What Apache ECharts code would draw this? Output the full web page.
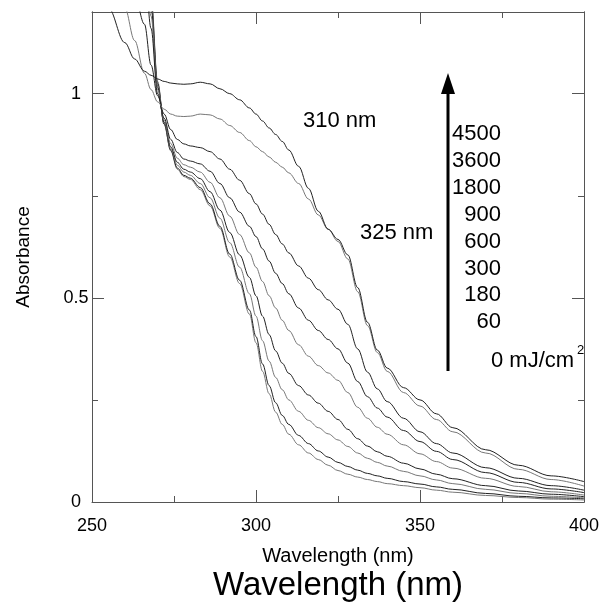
<!DOCTYPE html>
<html>
<head>
<meta charset="utf-8">
<script src="https://cdn.jsdelivr.net/npm/echarts@6/dist/echarts.min.js"></script>
<style>
html,body{margin:0;padding:0;background:#fff;}
#c{width:604px;height:605px;}
</style>
</head>
<body>
<div id="c"></div>
<script>
// ---- data ----
const wavelength = [250,255,260,263,266,268,270,272,274,276,278,280,283,286,289,292,295,298,300,302,304,306,308,310,313,316,319,322,325,328,331,334,337,340,345,350,355,360,370,380,390,400];

const abs0    = [1.80,1.70,1.60,1.50,1.38,1.24,1.03,0.925,0.86,0.815,0.797,0.79,0.765,0.725,0.67,0.60,0.535,0.46,0.39,0.32,0.265,0.22,0.19,0.166,0.14,0.12,0.104,0.09,0.077,0.068,0.061,0.055,0.05,0.045,0.04,0.035,0.029,0.024,0.016,0.011,0.007,0.005];
const abs60   = [1.80,1.70,1.60,1.50,1.37,1.23,1.025,0.925,0.862,0.818,0.80,0.793,0.77,0.73,0.675,0.607,0.543,0.47,0.405,0.338,0.285,0.243,0.212,0.19,0.163,0.143,0.125,0.11,0.097,0.087,0.078,0.07,0.064,0.058,0.05,0.044,0.037,0.031,0.021,0.014,0.01,0.008];
const abs180  = [1.78,1.68,1.58,1.48,1.36,1.22,1.02,0.928,0.866,0.825,0.808,0.80,0.78,0.745,0.695,0.635,0.575,0.51,0.455,0.395,0.345,0.305,0.275,0.25,0.222,0.2,0.182,0.167,0.152,0.136,0.12,0.107,0.097,0.088,0.075,0.064,0.054,0.045,0.031,0.021,0.014,0.01];
const abs300  = [1.77,1.67,1.57,1.47,1.35,1.21,1.015,0.93,0.87,0.832,0.815,0.808,0.792,0.76,0.715,0.66,0.605,0.55,0.505,0.455,0.41,0.37,0.34,0.315,0.285,0.262,0.242,0.222,0.202,0.178,0.155,0.137,0.123,0.112,0.095,0.081,0.068,0.057,0.04,0.027,0.019,0.013];
const abs600  = [1.75,1.65,1.55,1.45,1.33,1.19,1.01,0.935,0.878,0.842,0.826,0.82,0.808,0.783,0.745,0.70,0.655,0.61,0.575,0.54,0.505,0.475,0.445,0.42,0.385,0.357,0.334,0.316,0.298,0.268,0.232,0.205,0.183,0.166,0.14,0.118,0.099,0.083,0.058,0.038,0.025,0.017];
const abs900  = [1.72,1.62,1.52,1.43,1.31,1.16,1.0,0.94,0.888,0.856,0.84,0.835,0.828,0.81,0.78,0.745,0.71,0.675,0.65,0.62,0.59,0.56,0.535,0.51,0.475,0.445,0.42,0.398,0.375,0.34,0.295,0.258,0.23,0.208,0.175,0.148,0.124,0.104,0.072,0.048,0.032,0.023];
const abs1800 = [1.50,1.40,1.30,1.24,1.17,1.07,0.995,0.95,0.912,0.888,0.877,0.872,0.868,0.858,0.84,0.815,0.788,0.755,0.73,0.705,0.68,0.655,0.632,0.61,0.578,0.548,0.52,0.495,0.472,0.435,0.375,0.318,0.277,0.246,0.205,0.172,0.143,0.12,0.084,0.058,0.04,0.029];
const abs3600 = [1.38,1.30,1.21,1.13,1.05,1.01,0.98,0.962,0.95,0.945,0.944,0.945,0.95,0.948,0.938,0.922,0.905,0.885,0.87,0.858,0.845,0.832,0.82,0.806,0.78,0.742,0.703,0.668,0.638,0.595,0.515,0.432,0.366,0.32,0.268,0.235,0.202,0.172,0.12,0.08,0.055,0.039];
const abs4500 = [1.28,1.21,1.125,1.085,1.055,1.045,1.036,1.03,1.026,1.024,1.023,1.024,1.028,1.024,1.012,1.0,0.985,0.965,0.95,0.933,0.916,0.90,0.883,0.862,0.822,0.768,0.712,0.668,0.643,0.605,0.525,0.44,0.372,0.328,0.28,0.25,0.216,0.182,0.128,0.09,0.064,0.05];

const doses = ['0','60','180','300','600','900','1800','3600','4500'];
const doseLabels = ['4500','3600','1800','900','600','300','180','60'];
const xTicks = [250,300,350,400];
const yTicks = [0,0.5,1];

// ---- chart ----
const curves = [abs0,abs60,abs180,abs300,abs600,abs900,abs1800,abs3600,abs4500];
const lineColors = ['#777','#222','#777','#222','#777','#222','#222','#777','#222'];
const FONT = '"Liberation Sans", Arial, Helvetica, sans-serif';
const AX = '#555';

const chart = echarts.init(document.getElementById('c'), null, {renderer:'canvas'});

function xAx(pos, labels){
  return {
    type:'value', min:250, max:400, interval:50, position:pos,
    axisLine:{show:true, onZero:false, lineStyle:{color:AX, width:1}},
    axisTick:{show:true, inside:true, length:12, lineStyle:{color:AX, width:1}},
    minorTick:{show:true, splitNumber:2, length:6, lineStyle:{color:AX, width:1}},
    splitLine:{show:false}, minorSplitLine:{show:false},
    axisLabel:{show:labels, margin:15, color:'#000', fontSize:18, fontFamily:FONT,
      formatter:v => xTicks.includes(v) ? String(v) : ''},
    name: labels ? 'Wavelength (nm)' : '',
    nameLocation:'middle', nameGap:44,
    nameTextStyle:{color:'#000', fontSize:20, fontFamily:FONT}
  };
}
function yAx(pos, interval, len, labels){
  return {
    type:'value', min:0, max:1.2, interval:interval, position:pos,
    axisLine:{show:true, onZero:false, lineStyle:{color:AX, width:1}},
    axisTick:{show:true, inside:true, length:len, lineStyle:{color:AX, width:1}},
    splitLine:{show:false},
    axisLabel:{show:labels, margin:16, align:'center', color:'#000', fontSize:18, fontFamily:FONT,
      formatter:v => yTicks.includes(v) ? String(v) : ''},
    name: labels ? 'Absorbance' : '',
    nameLocation:'middle', nameGap:59, nameRotate:90,
    nameTextStyle:{color:'#000', fontSize:19, fontFamily:FONT}
  };
}

const series = curves.map((c,i) => ({
  name: doses[i] + ' mJ/cm2',
  type:'line',
  xAxisIndex:0, yAxisIndex:0,
  data: wavelength.map((w,j) => [w, c[j]]),
  showSymbol:false, symbol:'none',
  smooth:0.35, smoothMonotone:'x',
  clip:true, silent:true,
  lineStyle:{width:1, color:lineColors[i]},
  z:2
}));

const txt = (t, x, y, align, size) => ({
  type:'text', x:x, y:y, silent:true, z:10,
  style:{text:t, fill:'#000', fontSize:size||22, fontFamily:FONT, align:align||'left', verticalAlign:'middle'}
});

const graphics = [
  txt('310 nm', 303, 121, 'left'),
  txt('325 nm', 360, 233, 'left'),
  txt('0 mJ/cm', 491, 361, 'left'),
  txt('2', 577, 350, 'left', 13),
  {type:'line', silent:true, z:10, shape:{x1:448, y1:371, x2:448, y2:92}, style:{stroke:'#000', lineWidth:3}},
  {type:'polygon', silent:true, z:10, shape:{points:[[441,94],[455,94],[448,73]]}, style:{fill:'#000'}},
  txt('Wavelength (nm)', 338, 586, 'center', 33)
];
doseLabels.forEach((d,i) => graphics.push(txt(d, 501, 134 + i*26.9, 'right')));

chart.setOption({
  animation:false,
  backgroundColor:'#fff',
  grid:{left:92, top:12, right:20, bottom:103, containLabel:false},
  xAxis:[xAx('bottom', true), xAx('top', false)],
  yAxis:[yAx('left',0.5,12,true), yAx('left',0.25,6,false), yAx('right',0.5,12,false), yAx('right',0.25,6,false)],
  series:series,
  graphic:graphics
});
</script>
</body>
</html>
